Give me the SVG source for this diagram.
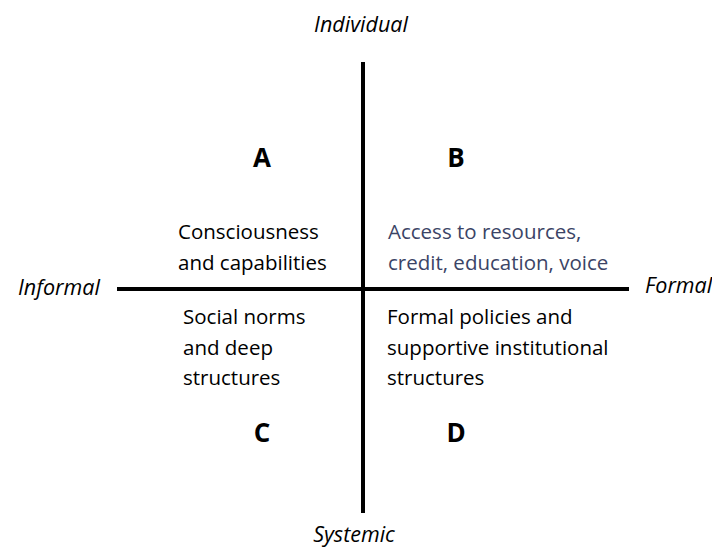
<svg xmlns="http://www.w3.org/2000/svg" width="712" height="550" viewBox="0 0 712 550">
<style>
.ax{stroke:#000;stroke-width:4;fill:none}
.lbl{font-family:"Open Sans","Noto Sans",sans-serif;font-style:italic;font-size:21.5px;fill:#000}
.q{font-family:"Open Sans","Noto Sans",sans-serif;font-weight:bold;font-size:26px;fill:#000;text-anchor:middle}
.t{font-family:"Open Sans","Noto Sans",sans-serif;font-size:20.5px;fill:#000}
.b{fill:#3b4466}
</style>
<rect width="712" height="550" fill="#fff"/>
<g id="connectors">
<line class="ax" x1="363" y1="62" x2="363" y2="513"/>
<line class="ax" x1="117" y1="289" x2="629" y2="289"/>
</g>
<g id="axis-individual"><text class="lbl" x="361" y="32" text-anchor="middle">Individual</text></g>
<g id="axis-systemic"><text class="lbl" x="354" y="542" text-anchor="middle">Systemic</text></g>
<g id="axis-informal"><text class="lbl" x="18" y="295">Informal</text></g>
<g id="axis-formal"><text class="lbl" x="645" y="293">Formal</text></g>
<g id="quadrant-A">
<text class="q" x="262" y="167">A</text>
<text class="t" x="178" y="239">Consciousness</text>
<text class="t" x="178" y="270">and capabilities</text>
</g>
<g id="quadrant-B">
<text class="q" x="456" y="167">B</text>
<text class="t b" x="388" y="239">Access to resources,</text>
<text class="t b" x="388" y="270">credit, education, voice</text>
</g>
<g id="quadrant-C">
<text class="q" x="262" y="442">C</text>
<text class="t" x="183" y="324">Social norms</text>
<text class="t" x="183" y="355">and deep</text>
<text class="t" x="183" y="385">structures</text>
</g>
<g id="quadrant-D">
<text class="q" x="456" y="442">D</text>
<text class="t" x="387" y="324">Formal policies and</text>
<text class="t" x="387" y="355">supportive institutional</text>
<text class="t" x="387" y="385">structures</text>
</g>
</svg>
